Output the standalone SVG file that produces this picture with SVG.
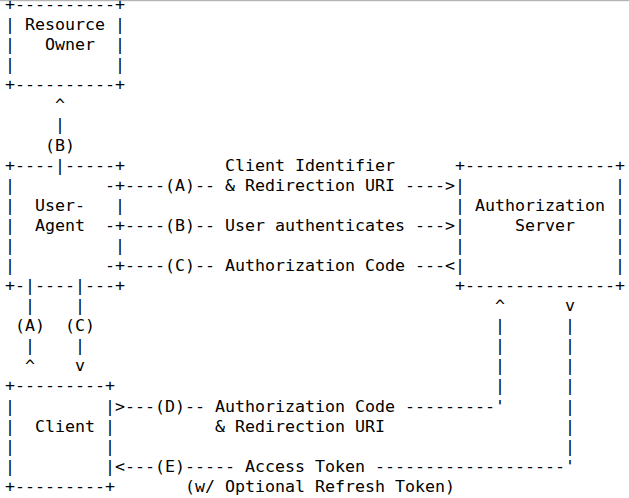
<svg xmlns="http://www.w3.org/2000/svg" width="629" height="498" viewBox="0 0 629 498">
<style>
.t{font-family:"DejaVu Sans Mono",monospace;font-size:16.61px;fill:#000}
</style>
<rect x="0" y="0" width="629" height="498" fill="#fff"/>
<rect x="0" y="0" width="629" height="1.2" fill="#b4b4b4"/>
<g id="resource-owner" class="t">
<text x="5" y="9.9">+----------+</text>
<text x="5" y="30">| Resource |</text>
<text x="5" y="50.1">|</text><text x="45" y="50.1">Owner</text><text x="115" y="50.1">|</text>
<text x="5" y="70.1">|</text><text x="115" y="70.1">|</text>
<text x="5" y="90.2">+----------+</text>
</g>
<g id="user-agent" class="t">
<text x="5" y="170.5">+----|-----+</text>
<text x="5" y="190.6">|</text><text x="105" y="190.6">-+</text>
<text x="5" y="210.7">|</text><text x="35" y="210.7">User-</text><text x="115" y="210.7">|</text>
<text x="5" y="230.8">|</text><text x="35" y="230.8">Agent</text><text x="105" y="230.8">-+</text>
<text x="5" y="250.9">|</text><text x="115" y="250.9">|</text>
<text x="5" y="270.9">|</text><text x="105" y="270.9">-+</text>
<text x="5" y="291">+-|----|---+</text>
</g>
<g id="authorization-server" class="t">
<text x="455" y="170.5">+---------------+</text>
<text x="455" y="190.6">|</text><text x="615" y="190.6">|</text>
<text x="455" y="210.7">| Authorization |</text>
<text x="455" y="230.8">|</text><text x="515" y="230.8">Server</text><text x="615" y="230.8">|</text>
<text x="455" y="250.9">|</text><text x="615" y="250.9">|</text>
<text x="455" y="270.9">|</text><text x="615" y="270.9">|</text>
<text x="455" y="291">+---------------+</text>
</g>
<g id="client" class="t">
<text x="5" y="391.4">+---------+</text>
<text x="5" y="411.5">|</text><text x="105" y="411.5">|</text>
<text x="5" y="431.6">|</text><text x="35" y="431.6">Client |</text>
<text x="5" y="451.7">|</text><text x="105" y="451.7">|</text>
<text x="5" y="471.7">|</text><text x="105" y="471.7">|</text>
<text x="5" y="491.8">+---------+</text>
</g>
<g id="connectors" class="t">
<text x="55" y="110.3">^</text>
<text x="55" y="130.4">|</text>
<text x="45" y="150.5">(B)</text>
<text x="225" y="170.5">Client Identifier</text>
<text x="125" y="190.6">----(A)-- &amp; Redirection URI ----&gt;</text>
<text x="125" y="230.8">----(B)-- User authenticates ---&gt;</text>
<text x="125" y="270.9">----(C)-- Authorization Code ---&lt;</text>
<text x="25" y="311.1">|</text><text x="75" y="311.1">|</text>
<text x="15" y="331.2">(A)</text><text x="65" y="331.2">(C)</text>
<text x="25" y="351.3">|</text><text x="75" y="351.3">|</text>
<text x="25" y="371.3">^</text><text x="75" y="371.3">v</text>
<text x="495" y="311.1">^</text><text x="565" y="311.1">v</text>
<text x="495" y="331.2">|</text><text x="565" y="331.2">|</text>
<text x="495" y="351.3">|</text><text x="565" y="351.3">|</text>
<text x="495" y="371.3">|</text><text x="565" y="371.3">|</text>
<text x="495" y="391.4">|</text><text x="565" y="391.4">|</text>
<text x="115" y="411.5">&gt;---(D)-- Authorization Code ---------'</text>
<text x="565" y="411.5">|</text>
<text x="215" y="431.6">&amp; Redirection URI</text>
<text x="565" y="431.6">|</text>
<text x="565" y="451.7">|</text>
<text x="115" y="471.7">&lt;---(E)----- Access Token -------------------'</text>
<text x="185" y="491.8">(w/ Optional Refresh Token)</text>
</g>
</svg>
